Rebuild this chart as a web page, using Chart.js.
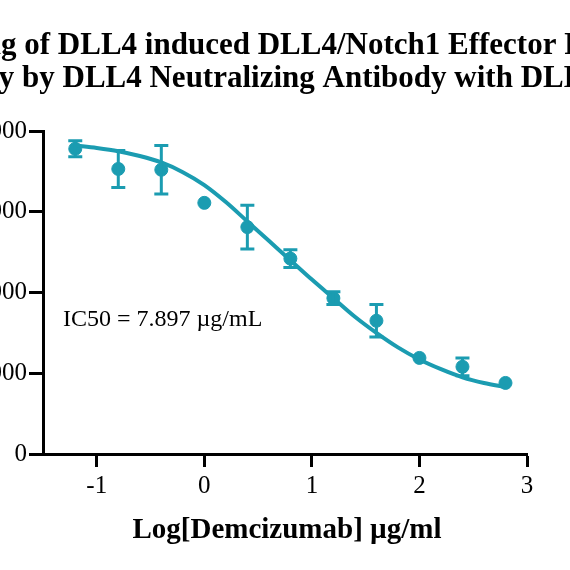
<!DOCTYPE html>
<html>
<head>
<script src="https://cdn.jsdelivr.net/npm/chart.js@4"></script>
<style>
html,body{margin:0;padding:0;background:#fff;overflow:hidden}
#wrap{width:570px;height:570px;position:relative}
</style>
</head>
<body>
<div id="wrap"><canvas id="graph"></canvas></div>
<script>
// measured points (x = log conc, y in thousands)
var doseX = [-1.2, -0.8, -0.4, 0, 0.4, 0.8, 1.2, 1.6, 2.0, 2.4, 2.8]
var signalY = [3.78, 3.53, 3.52, 3.11, 2.81, 2.42, 1.93, 1.65, 1.19, 1.08, 0.88]
var errY = [0.10, 0.23, 0.30, 0, 0.27, 0.11, 0.08, 0.20, 0, 0.11, 0]
// fitted curve
var fitX = [-1.2, -1.0, -0.8, -0.6, -0.4, -0.2, 0, 0.2, 0.4, 0.6, 0.8, 1.0, 1.2, 1.4, 1.6, 1.8, 2.0, 2.2, 2.4, 2.6, 2.8]
var fitY = [3.82, 3.79, 3.75, 3.69, 3.61, 3.49, 3.33, 3.12, 2.88, 2.64, 2.40, 2.16, 1.93, 1.70, 1.50, 1.32, 1.17, 1.05, 0.95, 0.88, 0.83]
var yTicks = [0, 1, 2, 3, 4]
var yTickLabels = ["0", "1000", "2000", "3000", "4000"]

var teal = "#1b9cb1"

const errorBars = {
  id: "errorBars",
  afterDatasetsDraw(chart) {
    const ctx = chart.ctx
    const xs = chart.scales.x, ys = chart.scales.y
    ctx.save()
    ctx.strokeStyle = teal
    ctx.lineWidth = 3
    doseX.forEach((x, i) => {
      if (!errY[i]) return
      const px = xs.getPixelForValue(x)
      const top = ys.getPixelForValue(signalY[i] + errY[i])
      const bot = ys.getPixelForValue(signalY[i] - errY[i])
      ctx.beginPath()
      ctx.moveTo(px, top); ctx.lineTo(px, bot)
      ctx.moveTo(px - 7, top); ctx.lineTo(px + 7, top)
      ctx.moveTo(px - 7, bot); ctx.lineTo(px + 7, bot)
      ctx.stroke()
    })
    ctx.restore()
  }
}

const texts = {
  id: "texts",
  afterDraw(chart) {
    const ctx = chart.ctx
    ctx.save()
    ctx.fillStyle = "#000"
    ctx.textBaseline = "alphabetic"
    ctx.font = "bold 31px 'Liberation Serif', serif"
    ctx.textAlign = "left"
    ctx.fillText("Blocking of DLL4 induced DLL4/Notch1 Effector Reporter", 1 - ctx.measureText("Blockin").width, 54)
    ctx.fillText("Activity by DLL4 Neutralizing Antibody with DLL4", 22 - ctx.measureText("Activity ").width, 87)
    ctx.textAlign = "center"
    ctx.font = "bold 29px 'Liberation Serif', serif"
    ctx.fillText("Log[Demcizumab] \u00b5g/ml", 287, 538)
    ctx.textAlign = "left"
    ctx.font = "24px 'Liberation Serif', serif"
    ctx.fillText("IC50 = 7.897 \u00b5g/mL", 63, 326)
    ctx.restore()
  }
}

new Chart(document.getElementById("graph"), {
  type: "scatter",
  data: {
    datasets: [
      {
        type: "line",
        data: fitX.map((x, i) => ({x: x, y: fitY[i]})),
        borderColor: teal,
        borderWidth: 4,
        pointRadius: 0,
        cubicInterpolationMode: "monotone",
        fill: false
      },
      {
        data: doseX.map((x, i) => ({x: x, y: signalY[i]})),
        backgroundColor: teal,
        borderColor: teal,
        pointRadius: 6.5
      }
    ]
  },
  plugins: [errorBars, texts],
  options: {
    responsive: true,
    maintainAspectRatio: false,
    animation: false,
    layout: {padding: {top: 131, right: 43, left: 0, bottom: 0}},
    plugins: {legend: {display: false}, tooltip: {enabled: false}},
    scales: {
      x: {
        type: "linear", min: -1.5, max: 3,
        afterFit: s => { s.height = 116 },
        afterBuildTicks: s => { s.ticks = [-1, 0, 1, 2, 3].map(v => ({value: v})) },
        border: {color: "#000", width: 3},
        grid: {drawOnChartArea: false, tickLength: 13, tickWidth: 3, tickColor: "#000"},
        ticks: {color: "#000", font: {family: "'Liberation Serif', serif", size: 25}, padding: 4}
      },
      y: {
        min: 0, max: 4,
        afterFit: s => { s.width = 43 },
        afterBuildTicks: s => { s.ticks = yTicks.map(v => ({value: v})) },
        border: {color: "#000", width: 3},
        grid: {drawOnChartArea: false, tickLength: 14, tickWidth: 3, tickColor: "#000"},
        ticks: {
          color: "#000", font: {family: "'Liberation Serif', serif", size: 25}, padding: 2,
          callback: v => yTickLabels[yTicks.indexOf(v)]
        }
      }
    }
  }
})
</script>
</body>
</html>
